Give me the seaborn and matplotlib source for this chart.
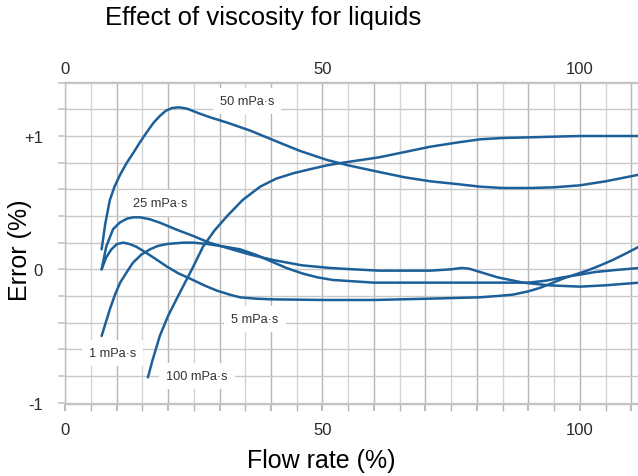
import matplotlib
matplotlib.use("Agg")
import matplotlib.pyplot as plt
import matplotlib.ticker as mticker
import pandas as pd
import seaborn as sns

# curve readings: flow rate (%) vs error (%)
x_1 = [7.1, 7.9, 8.7, 9.7, 10.7, 12, 13.2, 14.8, 16.5, 18, 19.8, 22.9, 25, 27.6, 31, 34, 37, 40, 43, 46,
       49, 52, 56, 60, 70, 80, 90, 93.5, 96.7, 100, 103, 107, 111.5]
y_1 = [-0.50, -0.40, -0.30, -0.19, -0.10, -0.02, 0.05, 0.11, 0.15, 0.175, 0.19, 0.20, 0.20, 0.19, 0.17, 0.15,
       0.11, 0.06, 0.01, -0.03, -0.06, -0.08, -0.09, -0.10, -0.10, -0.10, -0.10, -0.085, -0.06, -0.04, -0.02,
       -0.005, 0.01]

x_5 = [7.1, 8, 9, 10.1, 11.3, 12.5, 13.8, 15.1, 17.5, 19.8, 22, 24.3, 27, 29.5, 32, 34, 37, 40, 50, 60, 71,
       80.6, 84, 87, 90, 92.2, 94.5, 96.7, 99, 101.4, 104, 106.4, 109, 111.5]
y_5 = [0.0, 0.09, 0.15, 0.19, 0.20, 0.19, 0.17, 0.14, 0.08, 0.02, -0.03, -0.07, -0.12, -0.16, -0.19, -0.21,
       -0.22, -0.225, -0.23, -0.23, -0.22, -0.21, -0.20, -0.19, -0.165, -0.14, -0.105, -0.07, -0.04, -0.01,
       0.03, 0.07, 0.12, 0.17]

x_25 = [7.1, 8, 9.3, 10.6, 12, 13.3, 14.6, 16.5, 18.4, 21.5, 24.9, 28, 31.5, 36, 40.4, 46, 51.5, 56, 61, 71,
        75, 77, 78.5, 80.6, 84, 86.5, 89, 94, 100, 105, 111.5]
y_25 = [0.0, 0.17, 0.30, 0.35, 0.38, 0.39, 0.39, 0.375, 0.35, 0.30, 0.25, 0.20, 0.16, 0.11, 0.07, 0.03, 0.01,
        0.0, -0.01, -0.01, 0.0, 0.01, 0.005, -0.02, -0.06, -0.08, -0.10, -0.12, -0.13, -0.12, -0.10]

x_50 = [7.1, 7.8, 8.7, 9.6, 10.7, 12, 13.2, 14.5, 15.9, 17.2, 18.4, 19.6, 20.8, 22.2, 23.7, 26, 28.2, 31.5,
        36, 40.4, 45.5, 50.9, 55, 61, 66, 71, 76, 80.6, 85, 90.3, 95, 100, 105, 111.5]
y_50 = [0.15, 0.34, 0.52, 0.62, 0.71, 0.80, 0.87, 0.95, 1.03, 1.10, 1.15, 1.19, 1.21, 1.215, 1.205, 1.17, 1.14,
        1.10, 1.04, 0.97, 0.89, 0.82, 0.78, 0.73, 0.69, 0.66, 0.64, 0.62, 0.61, 0.61, 0.615, 0.63, 0.66, 0.71]

x_100 = [16.1, 17, 18.4, 20, 21.7, 23.3, 24.9, 26.8, 29, 31.5, 34.5, 37.9, 41, 44.3, 47.5, 50.9, 54, 57.5,
         61, 66, 71, 76, 80.6, 85, 90.3, 95, 100, 111.5]
y_100 = [-0.81, -0.68, -0.50, -0.35, -0.22, -0.10, 0.02, 0.17, 0.29, 0.40, 0.52, 0.62, 0.68, 0.72, 0.75, 0.78,
         0.80, 0.82, 0.84, 0.88, 0.92, 0.95, 0.975, 0.985, 0.99, 0.995, 1.0, 1.0]

labels = ["1 mPa·s", "5 mPa·s", "25 mPa·s", "50 mPa·s", "100 mPa·s"]
label_x = [9.3, 36.9, 18.4, 35.3, 25.6]
label_y = [-0.63, -0.37, 0.50, 1.26, -0.80]

LINE = "#1d5f98"
TEXT = "#2a2a2a"

sns.set_theme(style="white")
plt.rcParams["font.family"] = ["Liberation Sans", "DejaVu Sans"]

series = [(x_1, y_1), (x_5, y_5), (x_25, y_25), (x_50, y_50), (x_100, y_100)]
df = pd.concat(
    [pd.DataFrame({"flow": xs, "err": ys, "curve": lab}) for (xs, ys), lab in zip(series, labels)],
    ignore_index=True,
)

fig = plt.figure(figsize=(6.38, 4.77), dpi=100)
ax = fig.add_axes([0.102, 0.151, 0.898, 0.675])

sns.lineplot(data=df, x="flow", y="err", units="curve", estimator=None, sort=False,
             color=LINE, linewidth=1.8, ax=ax, solid_joinstyle="round", solid_capstyle="round")

ax.set_xlim(0, 111.3)
ax.set_ylim(-1.01, 1.405)

# grid: darker every 10, lighter at the 5s; rows every 0.2
ax.xaxis.set_major_locator(mticker.MultipleLocator(10))
ax.xaxis.set_minor_locator(mticker.MultipleLocator(5))
ax.xaxis.set_major_formatter(mticker.FuncFormatter(lambda v, _: f"{v:.0f}" if v % 50 == 0 else ""))
ax.yaxis.set_major_locator(mticker.MultipleLocator(0.2))
ax.yaxis.set_major_formatter(mticker.FuncFormatter(
    lambda v, _: {1: "+1", 0: "0", -1: "-1"}.get(int(round(v)), "") if abs(v - round(v)) < 1e-6 else ""))
ax.grid(which="major", axis="x", color="#b5b5b5", linewidth=1.0)
ax.grid(which="minor", axis="x", color="#d4d4d4", linewidth=1.0)
ax.grid(which="major", axis="y", color="#c8c8c8", linewidth=1.0)
ax.set_axisbelow(True)

ax.tick_params(axis="x", which="both", bottom=True, top=False, length=5, color="#b5b5b5",
               labelsize=12, labelcolor=TEXT, pad=8)
ax.tick_params(axis="y", which="major", left=True, length=5, color="#c8c8c8",
               labelsize=12, labelcolor=TEXT, pad=11)

top = ax.secondary_xaxis("top")
top.set_xticks([0, 50, 100])
top.tick_params(length=0, labelsize=12, labelcolor=TEXT, pad=4)
top.spines["top"].set_visible(False)

ax.spines["right"].set_visible(False)
for side in ["left", "bottom", "top"]:
    ax.spines[side].set_color("#c0c0c0")
    ax.spines[side].set_linewidth(1.0)

for lab, lx, ly in zip(labels, label_x, label_y):
    ax.text(lx, ly, lab, ha="center", va="center", fontsize=9.2, color="#333333",
            bbox=dict(facecolor="white", edgecolor="none", pad=5))

ax.set_xlabel("Flow rate (%)", fontsize=18, color="black", va="center", ha="center")
ax.set_ylabel("Error (%)", fontsize=18, color="black", va="center", ha="center")
ax.xaxis.set_label_coords(0.447, -0.174)
ax.yaxis.set_label_coords(-0.079, 0.48)
fig.text(0.412, 0.963, "Effect of viscosity for liquids", ha="center", va="center",
         fontsize=18.5, color="black")

fig.savefig("out.png", dpi=100)
plt.close(fig)
